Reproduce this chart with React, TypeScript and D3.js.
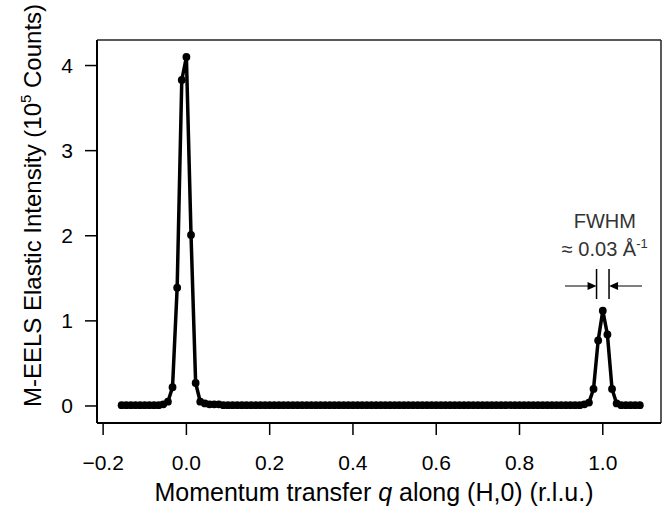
import React from "react";
import * as d3 from "d3";

// Momentum transfer q (r.l.u.)
const qValues: number[] = [
  -0.1556, -0.1444, -0.1333, -0.1222, -0.1111, -0.1, -0.0889, -0.0778, -0.0667, -0.0556,
  -0.0444, -0.0333, -0.0222, -0.0111, 0, 0.0111, 0.0222, 0.0333, 0.0444, 0.0556,
  0.0667, 0.0778, 0.0889, 0.1, 0.1111, 0.1222, 0.1333, 0.1444, 0.1556, 0.1667,
  0.1778, 0.1889, 0.2, 0.2111, 0.2222, 0.2333, 0.2444, 0.2556, 0.2667, 0.2778,
  0.2889, 0.3, 0.3111, 0.3222, 0.3333, 0.3444, 0.3556, 0.3667, 0.3778, 0.3889,
  0.4, 0.4111, 0.4222, 0.4333, 0.4444, 0.4556, 0.4667, 0.4778, 0.4889, 0.5,
  0.5111, 0.5222, 0.5333, 0.5444, 0.5556, 0.5667, 0.5778, 0.5889, 0.6, 0.6111,
  0.6222, 0.6333, 0.6444, 0.6556, 0.6667, 0.6778, 0.6889, 0.7, 0.7111, 0.7222,
  0.7333, 0.7444, 0.7556, 0.7667, 0.7778, 0.7889, 0.8, 0.8111, 0.8222, 0.8333,
  0.8444, 0.8556, 0.8667, 0.8778, 0.8889, 0.9, 0.9111, 0.9222, 0.9333, 0.9444,
  0.9556, 0.9667, 0.9778, 0.9889, 1, 1.0111, 1.0222, 1.0333, 1.0444, 1.0556,
  1.0667, 1.0778, 1.0889,
];

// Elastic intensity (10^5 counts)
const intensity: number[] = [
  0.01, 0.01, 0.01, 0.01, 0.01, 0.01, 0.01, 0.01, 0.01, 0.02,
  0.05, 0.22, 1.39, 3.83, 4.1, 2.01, 0.27, 0.05,
  0.03, 0.02, 0.02, 0.02, 0.01, 0.01, 0.01, 0.01, 0.01, 0.01,
  0.01, 0.01, 0.01, 0.01, 0.01, 0.01, 0.01, 0.01, 0.01, 0.01,
  0.01, 0.01, 0.01, 0.01, 0.01, 0.01, 0.01, 0.01, 0.01, 0.01,
  0.01, 0.01, 0.01, 0.01, 0.01, 0.01, 0.01, 0.01, 0.01, 0.01,
  0.01, 0.01, 0.01, 0.01, 0.01, 0.01, 0.01, 0.01, 0.01, 0.01,
  0.01, 0.01, 0.01, 0.01, 0.01, 0.01, 0.01, 0.01, 0.01, 0.01,
  0.01, 0.01, 0.01, 0.01, 0.01, 0.01, 0.01, 0.01, 0.01, 0.01,
  0.01, 0.01, 0.01, 0.01, 0.01, 0.01, 0.01, 0.01, 0.01, 0.01,
  0.01, 0.01, 0.02,
  0.04, 0.2, 0.77, 1.12, 0.84, 0.2, 0.03,
  0.01, 0.01, 0.01, 0.01, 0.01,
];

const xTicks: number[] = [-0.2, 0.0, 0.2, 0.4, 0.6, 0.8, 1.0];
const yTicks: number[] = [0, 1, 2, 3, 4];
const fwhm = 0.03;
const peakCenter = 1.0;

const W = 671;
const H = 514;
const M = { left: 97, right: 10, top: 40, bottom: 91 };
const FONT = "'Liberation Sans', Arial, Helvetica, sans-serif";

export default function App() {
  const x = d3.scaleLinear().domain([-0.2147, 1.1398]).range([M.left, W - M.right]);
  const y = d3.scaleLinear().domain([-0.2, 4.3]).range([H - M.bottom, M.top]);
  const pts = qValues.map((q, i) => [q, intensity[i]] as [number, number]);
  const line = d3.line<[number, number]>().x((d) => x(d[0])).y((d) => y(d[1]));

  const x0 = M.left;
  const x1 = W - M.right;
  const y0 = H - M.bottom;
  const y1 = M.top;

  const lx = x(peakCenter - fwhm / 2);
  const rx = x(peakCenter + fwhm / 2);
  const ay = 286;
  const cx = x(peakCenter) + 2;

  return (
    <svg width={W} height={H} style={{ position: "absolute", left: 0, top: 0 }} fontFamily={FONT}>
      <rect x={0} y={0} width={W} height={H} fill="white" />
      {/* frame */}
      <line x1={x0} y1={y1} x2={x1} y2={y1} stroke="#222" strokeWidth={1.5} />
      <line x1={x1} y1={y1} x2={x1} y2={y0} stroke="#222" strokeWidth={1.5} />
      <line x1={x0} y1={y0} x2={x1} y2={y0} stroke="#000" strokeWidth={2} />
      <line x1={x0} y1={y1} x2={x0} y2={y0} stroke="#000" strokeWidth={2} />
      {/* x ticks */}
      {xTicks.map((t) => (
        <g key={"x" + t}>
          <line x1={x(t)} x2={x(t)} y1={y0} y2={y0 + 12} stroke="#000" strokeWidth={1.5} />
          <text x={x(t)} y={y0 + 47} fontSize={21} textAnchor="middle" fill="#000">
            {t < 0 ? "\u2212" + Math.abs(t).toFixed(1) : t.toFixed(1)}
          </text>
        </g>
      ))}
      {/* y ticks */}
      {yTicks.map((t) => (
        <g key={"y" + t}>
          <line x1={x0 - 12} x2={x0} y1={y(t)} y2={y(t)} stroke="#000" strokeWidth={1.5} />
          <text x={x0 - 24} y={y(t) + 7.5} fontSize={21} textAnchor="end" fill="#000">
            {t}
          </text>
        </g>
      ))}
      {/* axis titles */}
      <text x={374} y={501} fontSize={25} textAnchor="middle" fill="#000">
        Momentum transfer <tspan fontStyle="italic">q</tspan> along (H,0) (r.l.u.)
      </text>
      <text
        transform={`translate(41, ${(y0 + y1) / 2 - 26}) rotate(-90)`}
        fontSize={24}
        textAnchor="middle"
        fill="#000"
      >
        M-EELS Elastic Intensity (10<tspan fontSize={15} dy={-10}>5</tspan>
        <tspan dy={10}> Counts)</tspan>
      </text>
      {/* data */}
      <path d={line(pts) || ""} fill="none" stroke="#000" strokeWidth={3.5} strokeLinejoin="round" />
      {pts.map((d, i) => (
        <circle key={i} cx={x(d[0])} cy={y(d[1])} r={3.9} fill="#000" />
      ))}
      {/* FWHM annotation */}
      <text x={cx} y={228} fontSize={20} textAnchor="middle" fill="#333">
        FWHM
      </text>
      <text x={cx} y={256} fontSize={20} textAnchor="middle" fill="#333">
        ≈ 0.03 Å<tspan fontSize={13} dy={-8}>-1</tspan>
      </text>
      <line x1={lx} x2={lx} y1={269} y2={299} stroke="#000" strokeWidth={1.5} />
      <line x1={rx} x2={rx} y1={269} y2={299} stroke="#000" strokeWidth={1.5} />
      <line x1={565} x2={lx - 6} y1={ay} y2={ay} stroke="#000" strokeWidth={1} />
      <path d={`M${lx},${ay} L${lx - 9},${ay - 4} L${lx - 9},${ay + 4} Z`} fill="#000" />
      <line x1={642} x2={rx + 6} y1={ay} y2={ay} stroke="#000" strokeWidth={1} />
      <path d={`M${rx},${ay} L${rx + 9},${ay - 4} L${rx + 9},${ay + 4} Z`} fill="#000" />
    </svg>
  );
}
